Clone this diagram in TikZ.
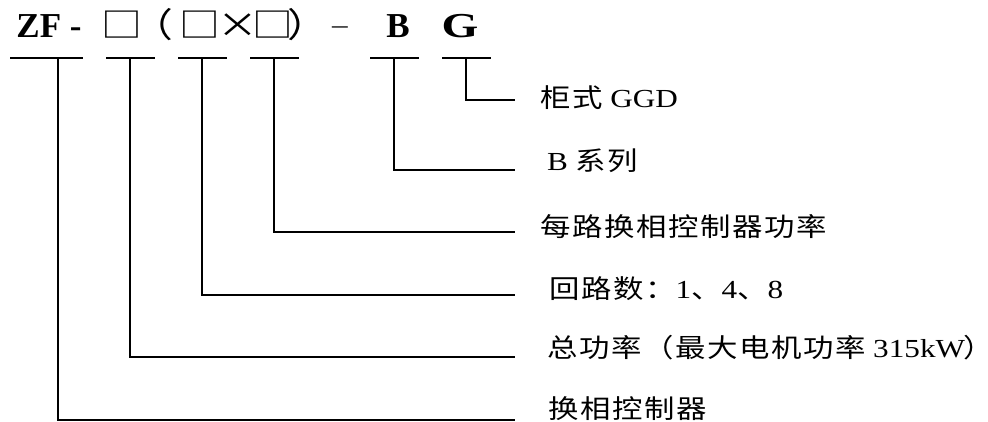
\documentclass[tikz,border=0pt]{standalone}
\usepackage{fontspec}
\setmainfont[FakeStretch=1.2]{Liberation Serif}
\newfontfamily\codefont{Liberation Serif}
\newfontfamily\gfont[FakeStretch=1.35]{Liberation Serif}
\newfontfamily\cjk[FakeStretch=1.17,LetterSpace=6]{Noto Sans CJK SC}
\newfontfamily\cjkp[FakeStretch=1.17,RawFeature=+palt]{Noto Sans CJK SC}
\newfontfamily\cjksym[FakeStretch=1.2]{Noto Sans CJK SC}
\newfontfamily\cjksymp[FakeStretch=1.2,RawFeature=+palt]{Noto Sans CJK SC}
\begin{document}
\begin{tikzpicture}[x=1pt,y=-1pt,
  conn/.style={line width=1.2pt},
  code/.style={anchor=base,inner sep=0,font=\fontsize{35}{35}\selectfont\codefont\bfseries},
  sym/.style={anchor=base,inner sep=0,font=\fontsize{34}{34}\selectfont\cjksym},
  paren/.style={anchor=base,inner sep=0,font=\fontsize{34}{34}\selectfont\cjksymp},
  lab/.style={anchor=base west,inner sep=0,font=\fontsize{26}{26}\selectfont}]
\useasboundingbox (0,0) rectangle (988,421);
% top code row
\node[code] (zf) at (49,37) {ZF -};
\node[sym] (s1) at (122,37) {□};
\node[paren] (lp) at (162,37) {（};
\node[sym] (s2) at (200,37) {□};
\node[sym] (x) at (238,37) {×};
\node[sym] (s3) at (273,37) {□};
\node[paren] (rp) at (299,37) {）};
\node[inner sep=0,font=\fontsize{26}{26}\selectfont] (dash) at (340,30) {–};
\node[code] (cb) at (398,37) {B};
\node[code,font=\fontsize{35}{35}\selectfont\gfont\bfseries] (cg) at (460,37) {G};
% short bars
\draw[conn] (10,58) -- (83,58);
\draw[conn] (106,58) -- (155,58);
\draw[conn] (178,58) -- (227,58);
\draw[conn] (250,58) -- (299,58);
\draw[conn] (370,58) -- (419,58);
\draw[conn] (442,58) -- (491,58);
% bar tap points
\coordinate (t1) at (58,58);
\coordinate (t2) at (130,58);
\coordinate (t3) at (202,58);
\coordinate (t4) at (274,58);
\coordinate (t5) at (394,58);
\coordinate (t6) at (466,58);
% line ends
\coordinate (e1) at (515,420);
\coordinate (e2) at (515,357);
\coordinate (e3) at (515,295);
\coordinate (e4) at (515,232);
\coordinate (e5) at (515,170);
\coordinate (e6) at (515,100);
% connectors
\draw[conn] (t1) |- (e1);
\draw[conn] (t2) |- (e2);
\draw[conn] (t3) |- (e3);
\draw[conn] (t4) |- (e4);
\draw[conn] (t5) |- (e5);
\draw[conn] (t6) |- (e6);
% labels
\node[lab] (l6) at (540,107) {{\cjk 柜式} GGD};
\node[lab] (l5) at (547,170) {B {\cjk 系列}};
\node[lab] (l4) at (540,236) {\cjk 每路换相控制器功率};
\node[lab] (l3) at (549,298) {{\cjk 回路数：}1{\cjk 、}4{\cjk 、}8};
\node[lab] (l2) at (547,357) {{\cjk 总功率（最大电机功率} 315kW{\cjkp ）}};
\node[lab] (l1) at (548,418) {\cjk 换相控制器};
\end{tikzpicture}
\end{document}
